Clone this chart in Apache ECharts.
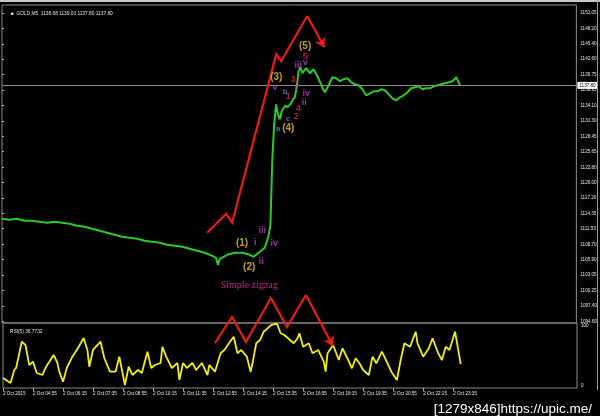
<!DOCTYPE html>
<html><head><meta charset="utf-8">
<script src="https://cdn.jsdelivr.net/npm/echarts@6/dist/echarts.min.js"></script>
<style>
html,body{margin:0;padding:0;background:#000;overflow:hidden;}
#c{width:600px;height:416px;position:absolute;left:0;top:0;}
#topbar{position:absolute;left:0;top:0;width:600px;height:2px;background:#c8c8c8;}
#rline{position:absolute;left:597px;top:0;width:1px;height:390px;background:#9a9a9a;}
</style></head>
<body><div id="c"></div><div id="topbar"></div><div id="rline"></div>
<script>
// ---- axis ticks ----
const timeTickBars = [0,16,32,48,64,80,96,112,128,144,160,176,192,208,224,240];
const timeLabels = ["2 Oct 2015","2 Oct 04:55","2 Oct 06:15","2 Oct 07:35","2 Oct 08:55","2 Oct 10:15","2 Oct 11:35","2 Oct 12:55","2 Oct 14:15","2 Oct 15:35","2 Oct 16:55","2 Oct 18:15","2 Oct 19:35","2 Oct 20:55","2 Oct 22:15","2 Oct 23:35"];
const priceTicks = [1151.05,1148.20,1145.40,1142.60,1139.75,1136.95,1134.10,1131.30,1128.45,1125.65,1122.80,1120.00,1117.20,1114.35,1111.55,1108.70,1105.90,1103.05,1100.25,1097.40,1094.60];
const rsiTicks = [0,100];
const lastPrice = 1137.80;

// ---- GOLD M5 price (bar index, price) ----
const priceBars = [0,4,8,12,16,20,24,28,32,36,40,44,48,52,56,60,64,68,72,76,80,84,88,92,96,100,104,108,112,114,115,116,120,124,128,132,134,136,138,140,141,142,143,144,145,146,147,148,149,150,151,152,153,154,155,156,157,158,159,160,162,164,166,168,170,171,172,174,176,178,180,182,184,186,188,190,192,194,196,198,200,202,204,206,208,210,212,214,216,218,220,222,224,226,228,230,232,234,236,238,240,242,243,244];
const priceValues = [1113.39,1113.21,1113.39,1113.02,1113.02,1112.84,1112.66,1112.84,1112.66,1112.47,1112.11,1111.92,1111.55,1111.19,1110.82,1110.45,1110.09,1109.90,1109.72,1109.35,1109.17,1108.98,1108.62,1108.43,1108.25,1107.88,1107.51,1107.15,1106.59,1106.23,1104.94,1106.04,1106.78,1107.15,1107.15,1106.78,1106.41,1106.96,1107.51,1108.06,1109.17,1110.27,1112.29,1124.23,1130.66,1134.33,1132.50,1131.58,1133.05,1133.41,1134.15,1133.78,1133.96,1134.52,1135.25,1135.62,1137.46,1140.40,1141.13,1140.03,1140.95,1140.03,1140.76,1139.48,1138.01,1137.09,1136.54,1137.82,1139.29,1139.11,1138.56,1138.93,1139.11,1138.37,1138.01,1137.82,1137.09,1135.99,1136.35,1136.72,1136.72,1137.09,1136.90,1136.17,1135.43,1135.07,1135.62,1135.99,1136.54,1137.27,1137.46,1137.64,1137.09,1137.27,1137.27,1137.64,1137.82,1138.01,1138.19,1138.37,1138.56,1139.29,1138.93,1137.80];

// ---- RSI(5) ----
const rsiBars = [0,4,6,7,10,12,14,16,18,21,23,27,29,30,32,34,37,40,43,45,46,48,52,54,57,60,62,65,67,69,72,74,77,79,81,84,85,87,90,93,94,96,98,101,103,106,109,110,113,116,118,121,123,125,127,130,132,133,135,137,139,141,143,146,148,150,153,155,157,158,160,163,165,168,171,172,173,176,179,181,184,186,188,190,192,195,197,199,202,205,207,210,212,214,217,220,221,224,227,229,232,234,236,238,241,244];
const rsiValues = [15.4,7.7,27.7,30.8,71.2,66.2,35.4,40.5,23.1,20.0,32.8,50.8,38.5,25.1,9.7,30.8,48.2,61.5,76.9,58.5,32.8,58.5,71.2,46.2,25.1,25.1,48.2,4.6,32.8,20.0,27.7,23.1,55.8,30.8,35.4,38.5,63.5,48.2,30.8,38.5,12.3,38.5,30.8,38.5,27.7,38.5,20.0,35.4,25.1,53.4,58.5,71.2,78.9,53.4,58.5,48.2,25.1,38.0,68.8,73.8,86.6,91.8,96.9,99.5,84.2,81.5,73.8,68.8,76.5,84.2,63.5,68.8,53.4,58.5,40.5,25.1,53.4,66.2,43.1,61.1,43.1,30.3,45.7,38.0,27.7,20.0,48.2,38.0,55.8,38.0,25.1,12.3,43.1,68.8,63.5,86.6,68.8,48.2,61.1,76.5,53.4,43.1,63.5,58.5,86.6,36.77];

// ---- red zigzag drawings ----
const zigPriceBars = [109.3,119.4,122.6,146.1,148.7,162.6,171.7];
const zigPriceValues = [1110.82,1114.31,1112.66,1143.52,1142.23,1150.50,1144.80];
const zigRsiBars = [113.0,122.1,129.5,142.8,151.4,161.5,175.9];
const zigRsiValues = [69.2,109.2,70.8,138.5,93.8,143.1,64.6];

// ---- wave labels ----
const majorText = ["(1)","(2)","(3)","(4)","(5)"];
const majorBars = [127.9,131.7,146.1,152.5,161.5];
const majorPrices = [1108.98,1104.57,1139.29,1129.92,1144.99];
const minorText = ["i","ii","iii","iv","v","i","ii","iii","iv","v"];
const minorBars = [134.9,138.1,138.6,145.0,145.5,156.7,161.0,157.8,162.1,161.5];
const minorPrices = [1108.98,1105.49,1111.19,1108.80,1137.46,1137.46,1134.70,1141.50,1136.35,1142.05];
const subText = ["1","2","3","4","5"];
const subBars = [152.5,156.7,155.1,157.8,161.5];
const subPrices = [1135.80,1132.13,1138.93,1133.60,1143.15];
const abcText = ["a","b","c"];
const abcBars = [147.1,150.9,152.5];
const abcPrices = [1129.92,1136.54,1131.76];
const noteText = ["Simple zigzag"];
const noteBars = [131.7];
const notePrices = [1101.27];

const zip = (a, b) => a.map((v, i) => [v, b[i]]);
const zip3 = (a, b, c) => a.map((v, i) => [v, b[i], c[i]]);

function textSeries(bars, prices, texts, color, size, bold, family) {
  return {
    type: 'scatter', xAxisIndex: 0, yAxisIndex: 0, symbolSize: 1,
    itemStyle: { color: 'rgba(0,0,0,0)' }, silent: true, z: 6,
    data: zip3(bars, prices, texts),
    label: { show: true, position: 'inside', formatter: p => p.data[2], color: color,
      fontSize: size, fontWeight: bold ? 'bold' : 'normal', fontFamily: family || 'Liberation Sans' }
  };
}
function zigSeries(xi, bars, vals) {
  const pts = zip(bars, vals);
  const base = { type: 'lines', coordinateSystem: 'cartesian2d', xAxisIndex: xi, yAxisIndex: xi, clip: false,
    lineStyle: { color: '#ec1b1b', width: 2.2, opacity: 1 }, z: 5, silent: true };
  return [
    Object.assign({}, base, { polyline: true, data: [{ coords: pts.slice(0, pts.length - 1) }] }),
    Object.assign({}, base, { data: [{ coords: pts.slice(pts.length - 2) }], symbol: ['none', 'arrow'], symbolSize: 9 })
  ];
}

const axisTxt = { color: '#e6e6e6', fontSize: 4.6, fontFamily: 'Liberation Sans' };
const chart = echarts.init(document.getElementById('c'), null, { renderer: 'canvas' });
chart.setOption({
  backgroundColor: '#000',
  animation: false,
  title: [
    { text: '\u25A0  GOLD,M5  1138.68 1139.03 1137.80 1137.80', left: 6, top: 6,
      textStyle: { color: '#e0e0e0', fontSize: 4.8, fontWeight: 'normal', fontFamily: 'Liberation Sans' } },
    { text: 'RSI(5) 36.7732', left: 5, top: 324,
      textStyle: { color: '#e0e0e0', fontSize: 4.8, fontWeight: 'normal', fontFamily: 'Liberation Sans' } },
    { text: '[1279x846]https://upic.me/', right: 3, top: 397,
      textStyle: { color: '#ffffff', fontSize: 13.5, fontWeight: 'normal', fontFamily: 'Liberation Sans' } }
  ],
  grid: [
    { left: 2, top: 5, width: 575, height: 318, show: true, borderColor: '#8a8a8a', borderWidth: 1 },
    { left: 2, top: 323, width: 575, height: 65, show: true, borderColor: '#8a8a8a', borderWidth: 1 }
  ],
  xAxis: [
    { type: 'value', gridIndex: 0, min: 0, max: 306, axisLine: { show: false }, axisTick: { show: false },
      axisLabel: { show: false }, splitLine: { show: false } },
    { type: 'value', gridIndex: 1, min: 0, max: 306, position: 'bottom',
      axisLine: { show: false },
      axisTick: { show: true, length: 3, lineStyle: { color: '#aaa' }, customValues: timeTickBars },
      axisLabel: Object.assign({ customValues: timeTickBars, align: 'left', margin: 3,
        formatter: v => timeLabels[timeTickBars.indexOf(v)] || '' }, axisTxt),
      splitLine: { show: false } }
  ],
  yAxis: [
    { type: 'value', gridIndex: 0, position: 'right', min: 1094.29, max: 1152.52,
      axisLine: { show: false },
      axisTick: { show: true, length: 2, lineStyle: { color: '#aaa' }, customValues: priceTicks },
      axisLabel: Object.assign({ customValues: priceTicks, margin: 4, formatter: v => v.toFixed(2) }, axisTxt),
      splitLine: { show: false } },
    { type: 'value', gridIndex: 1, position: 'right', min: 0, max: 100,
      axisLine: { show: false },
      axisTick: { show: false },
      axisLabel: Object.assign({ customValues: rsiTicks, margin: 4, verticalAlignMinLabel: 'bottom',
        verticalAlignMaxLabel: 'top', formatter: v => String(v) }, axisTxt),
      splitLine: { show: false } }
  ],
  series: [
    { type: 'line', xAxisIndex: 0, yAxisIndex: 0, data: zip(priceBars, priceValues), showSymbol: false,
      lineStyle: { color: '#28cc28', width: 2 }, z: 3,
      markLine: { silent: true, symbol: 'none', data: [{ yAxis: lastPrice }],
        lineStyle: { color: '#8c8c8c', width: 1, type: 'solid' },
        label: { show: true, position: 'end', distance: 1, formatter: lastPrice.toFixed(2),
          backgroundColor: '#ffffff', color: '#000', fontSize: 4.6, padding: [1, 2], fontFamily: 'Liberation Sans' } } },
    ...zigSeries(0, zigPriceBars, zigPriceValues),
    { type: 'line', xAxisIndex: 1, yAxisIndex: 1, data: zip(rsiBars, rsiValues), showSymbol: false,
      lineStyle: { color: '#f2ee10', width: 1.8 }, z: 3 },
    ...zigSeries(1, zigRsiBars, zigRsiValues),
    textSeries(majorBars, majorPrices, majorText, '#e8c41c', 10, true),
    textSeries(minorBars, minorPrices, minorText, '#b845c8', 9, true),
    textSeries(subBars, subPrices, subText, '#d8302a', 9, true),
    textSeries(abcBars, abcPrices, abcText, '#3d8fe0', 8, true),
    textSeries(noteBars, notePrices, noteText, '#f0309a', 10, false, 'Liberation Serif')
  ]
});
</script>
</body></html>
